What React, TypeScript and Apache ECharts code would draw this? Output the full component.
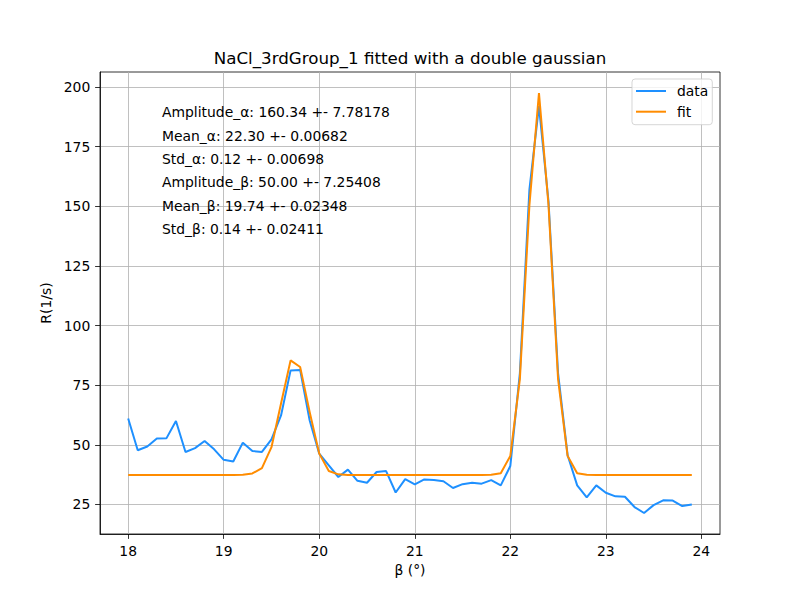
import React, { useRef, useEffect } from "react";
import * as echarts from "echarts";

const FONT = "DejaVu Sans";

// beta angles (deg)
const beta = [
  18.0, 18.1, 18.2, 18.3, 18.4, 18.5, 18.6, 18.7, 18.8, 18.9,
  19.0, 19.1, 19.2, 19.3, 19.4, 19.5, 19.6, 19.7, 19.8, 19.9,
  20.0, 20.1, 20.2, 20.3, 20.4, 20.5, 20.6, 20.7, 20.8, 20.9,
  21.0, 21.1, 21.2, 21.3, 21.4, 21.5, 21.6, 21.7, 21.8, 21.9,
  22.0, 22.1, 22.2, 22.3, 22.4, 22.5, 22.6, 22.7, 22.8, 22.9,
  23.0, 23.1, 23.2, 23.3, 23.4, 23.5, 23.6, 23.7, 23.8, 23.9,
];

// measured rate R (1/s)
const dataValues = [
  61.0, 47.7, 49.3, 52.6, 52.7, 60.0, 47.0, 48.6, 51.6, 48.1,
  43.7, 43.0, 50.9, 47.4, 47.0, 52.3, 62.3, 81.2, 81.4, 60.2,
  46.3, 41.4, 36.5, 39.6, 34.9, 34.1, 38.6, 39.0, 30.0, 35.6,
  33.4, 35.5, 35.2, 34.7, 31.9, 33.5, 34.1, 33.7, 35.2, 33.0,
  41.1, 80.0, 157.0, 192.0, 152.0, 80.0, 45.6, 33.0, 28.0, 33.0,
  29.9, 28.4, 28.2, 23.9, 21.4, 24.7, 26.7, 26.6, 24.3, 25.0,
];

// double gaussian fit
const fitValues = [
  37.3, 37.3, 37.3, 37.3, 37.3, 37.3, 37.3, 37.3, 37.3, 37.3,
  37.3, 37.3, 37.4, 38.0, 40.2, 49.0, 67.3, 85.4, 82.6, 63.7,
  46.3, 39.0, 37.6, 37.3, 37.3, 37.3, 37.3, 37.3, 37.3, 37.3,
  37.3, 37.3, 37.3, 37.3, 37.3, 37.3, 37.3, 37.3, 37.4, 38.1,
  45.3, 77.5, 150.5, 197.5, 150.5, 77.5, 45.3, 38.1, 37.4, 37.3,
  37.3, 37.3, 37.3, 37.3, 37.3, 37.3, 37.3, 37.3, 37.3, 37.3,
];

const xTicks = [18, 19, 20, 21, 22, 23, 24];
const yTicks = [25, 50, 75, 100, 125, 150, 175, 200];

const fitLines = [
  "Amplitude_α: 160.34 +- 7.78178",
  "Mean_α: 22.30 +- 0.00682",
  "Std_α: 0.12 +- 0.00698",
  "Amplitude_β: 50.00 +- 7.25408",
  "Mean_β: 19.74 +- 0.02348",
  "Std_β: 0.14 +- 0.02411",
];

const labelStyle = { color: "#000", fontSize: 13.9, fontFamily: FONT };

export default function App() {
  const chartRef = useRef<HTMLDivElement>(null);

  useEffect(() => {
    if (!chartRef.current) return;
    const chart = echarts.init(chartRef.current, null, { renderer: "svg" });

    const option = {
      animation: false,
      backgroundColor: "#fff",
      title: {
        text: "NaCl_3rdGroup_1 fitted with a double gaussian",
        left: 410,
        top: 49,
        textAlign: "center",
        padding: 0,
        textStyle: { color: "#000", fontSize: 16.7, fontWeight: "normal", fontFamily: FONT },
      },
      legend: {
        orient: "vertical",
        left: 632,
        top: 79,
        padding: [5, 4, 6, 4],
        icon: "rect",
        itemWidth: 30,
        itemHeight: 2,
        itemGap: 6.7,
        backgroundColor: "rgba(255,255,255,0.8)",
        borderColor: "rgba(204,204,204,0.8)",
        borderWidth: 1,
        borderRadius: 3,
        textStyle: { ...labelStyle, lineHeight: 14, padding: [0, 0, 0, 6] },
        data: ["data", "fit"],
      },
      grid: {
        show: true,
        left: 100,
        right: 80,
        top: 72,
        bottom: 66,
        borderColor: "#000",
        borderWidth: 0.8,
        backgroundColor: "transparent",
      },
      xAxis: {
        type: "value",
        min: 17.705,
        max: 24.195,
        name: "β (°)",
        nameLocation: "middle",
        nameGap: 28,
        nameTextStyle: labelStyle,
        axisLine: { show: true, lineStyle: { color: "#000", width: 0.8 } },
        axisTick: { show: true, length: 4.9, customValues: xTicks, lineStyle: { color: "#000", width: 0.8 } },
        axisLabel: { ...labelStyle, margin: 9.7, customValues: xTicks },
        splitLine: { show: true, lineStyle: { color: "#b0b0b0", width: 0.8 } },
      },
      yAxis: {
        type: "value",
        min: 12.6,
        max: 206.3,
        name: "R(1/s)",
        nameLocation: "middle",
        nameGap: 42,
        nameTextStyle: labelStyle,
        axisLine: { show: true, lineStyle: { color: "#000", width: 0.8 } },
        axisTick: { show: true, length: 4.9, customValues: yTicks, lineStyle: { color: "#000", width: 0.8 } },
        axisLabel: { ...labelStyle, margin: 9.7, customValues: yTicks },
        splitLine: { show: true, lineStyle: { color: "#b0b0b0", width: 0.8 } },
      },
      graphic: fitLines.map((t, i) => ({
        type: "text",
        left: 162,
        top: 113.3 + i * 23.35 - 8,
        z: 10,
        style: { text: t, fill: "#000", font: `13.9px "${FONT}"` },
      })),
      series: [
        {
          name: "data",
          type: "line",
          data: beta.map((b, i) => [b, dataValues[i]]),
          symbol: "none",
          lineStyle: { color: "#1e90ff", width: 2 },
          itemStyle: { color: "#1e90ff" },
        },
        {
          name: "fit",
          type: "line",
          data: beta.map((b, i) => [b, fitValues[i]]),
          symbol: "none",
          lineStyle: { color: "#ff8c00", width: 2 },
          itemStyle: { color: "#ff8c00" },
        },
      ],
    };

    // eslint-disable-next-line @typescript-eslint/no-explicit-any
    chart.setOption(option as any);
    return () => chart.dispose();
  }, []);

  return (
    <div
      ref={chartRef}
      style={{ position: "absolute", left: 0, top: 0, width: 800, height: 600 }}
    />
  );
}
